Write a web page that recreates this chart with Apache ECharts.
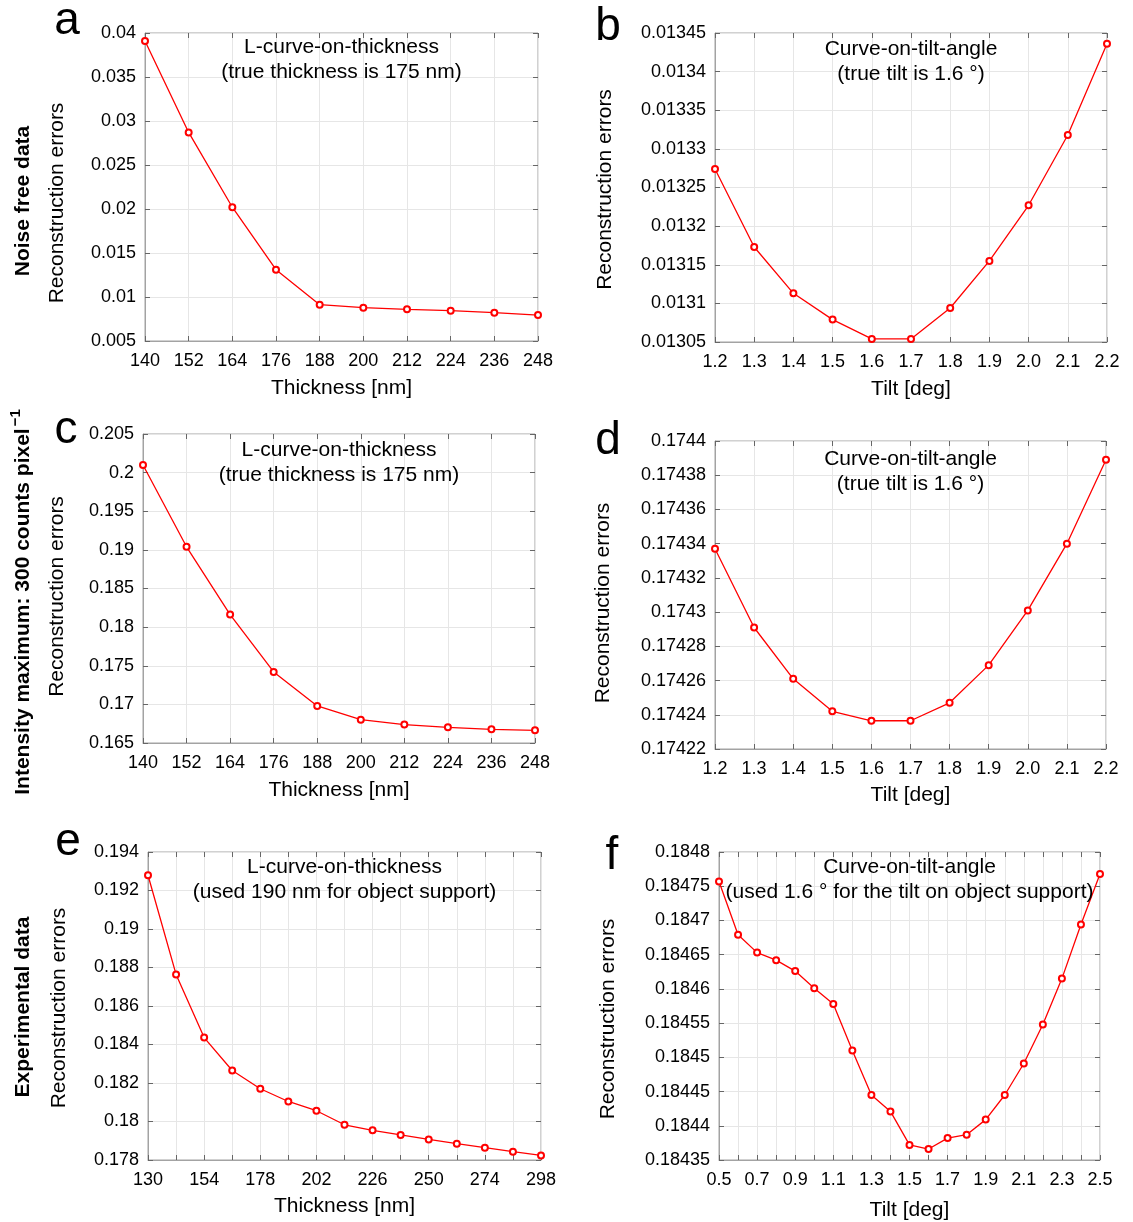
<!DOCTYPE html>
<html><head><meta charset="utf-8">
<script src="https://cdn.jsdelivr.net/npm/echarts@6/dist/echarts.min.js"></script>
<style>html,body{margin:0;padding:0;background:#fff}#c{width:1133px;height:1222px}</style>
</head><body><div id="c"></div><script>
// ---------- data ----------
const thicknessA = ['140','152','164','176','188','200','212','224','236','248'];
const errorsA = [0.0391, 0.0287, 0.0202, 0.0131, 0.00913, 0.00879, 0.0086, 0.00845, 0.00822, 0.00795];
const tiltB = ['1.2','1.3','1.4','1.5','1.6','1.7','1.8','1.9','2.0','2.1','2.2'];
const errorsB = [0.013274, 0.013173, 0.013113, 0.013079, 0.013054, 0.013054, 0.013094, 0.013155, 0.013227, 0.013318, 0.013436];
const thicknessC = ['140','152','164','176','188','200','212','224','236','248'];
const errorsC = [0.20098, 0.1904, 0.18163, 0.1742, 0.1698, 0.16802, 0.16738, 0.16703, 0.16677, 0.16664];
const tiltD = ['1.2','1.3','1.4','1.5','1.6','1.7','1.8','1.9','2.0','2.1','2.2'];
const errorsD = [0.174337, 0.174291, 0.174261, 0.174242, 0.1742365, 0.1742365, 0.174247, 0.174269, 0.174301, 0.17434, 0.174389];
const thicknessE = ['130','142','154','166','178','190','202','214','226','238','250','262','274','286','298'];
const errorsE = [0.19279, 0.18764, 0.18436, 0.18265, 0.1817, 0.18104, 0.18056, 0.17983, 0.17954, 0.1793, 0.17907, 0.17885, 0.17864, 0.17843, 0.17824];
const tiltF = ['0.5','0.6','0.7','0.8','0.9','1.0','1.1','1.2','1.3','1.4','1.5','1.6','1.7','1.8','1.9','2.0','2.1','2.2','2.3','2.4','2.5'];
const errorsF = [0.184757, 0.184679, 0.184653, 0.184642, 0.184626, 0.184601, 0.184578, 0.18451, 0.184445, 0.184421, 0.184372, 0.184366, 0.184382, 0.184387, 0.184409, 0.184445, 0.184491, 0.184548, 0.184615, 0.184694, 0.184768];

// y-axis ranges [min, max, step]
const yRangeA = [0.005, 0.04, 0.005];
const yRangeB = [0.01305, 0.01345, 0.00005];
const yRangeC = [0.165, 0.205, 0.005];
const yRangeD = [0.17422, 0.1744, 0.00002];
const yRangeE = [0.178, 0.194, 0.002];
const yRangeF = [0.18435, 0.1848, 0.00005];

// texts
const titleA = ['L-curve-on-thickness', '(true thickness is 175 nm)'];
const titleB = ['Curve-on-tilt-angle', '(true tilt is 1.6 °)'];
const titleC = ['L-curve-on-thickness', '(true thickness is 175 nm)'];
const titleD = ['Curve-on-tilt-angle', '(true tilt is 1.6 °)'];
const titleE = ['L-curve-on-thickness', '(used 190 nm for object support)'];
const titleF = ['Curve-on-tilt-angle', '(used 1.6 ° for the tilt on object support)'];
const xNameThick = 'Thickness [nm]';
const xNameTilt = 'Tilt [deg]';
const yName = 'Reconstruction errors';
const rowLabels = ['{m|Noise free data}', '{m|Intensity maximum: 300 counts pixel}{s|−1}', '{m|Experimental data}'];
const letters = ['a','b','c','d','e','f'];

// ---------- layout ----------
const FONT = '"Liberation Sans", Arial, sans-serif';
const panels = [
  {x: thicknessA, y: errorsA, r: yRangeA, title: titleA, xName: xNameThick, every: 1,
   g: {left: 145, top: 33, width: 393, height: 308}, yGap: 77, yShift: 16, xGap: 37, titleTop: 34, letter: [67, 21]},
  {x: tiltB, y: errorsB, r: yRangeB, title: titleB, xName: xNameTilt, every: 1,
   g: {left: 715, top: 33, width: 392, height: 309}, yGap: 99, yShift: 2, xGap: 37, titleTop: 36, letter: [608, 27]},
  {x: thicknessC, y: errorsC, r: yRangeC, title: titleC, xName: xNameThick, every: 1,
   g: {left: 143, top: 434, width: 392, height: 309}, yGap: 75, yShift: 8, xGap: 37, titleTop: 437, letter: [66, 430]},
  {x: tiltD, y: errorsD, r: yRangeD, title: titleD, xName: xNameTilt, every: 1,
   g: {left: 715, top: 441, width: 391, height: 308}, yGap: 101, yShift: 8, xGap: 36, titleTop: 446, letter: [608, 441]},
  {x: thicknessE, y: errorsE, r: yRangeE, title: titleE, xName: xNameThick, every: 2,
   g: {left: 148, top: 852, width: 393, height: 308}, yGap: 78, yShift: 2, xGap: 36, titleTop: 854, letter: [68, 842]},
  {x: tiltF, y: errorsF, r: yRangeF, title: titleF, xName: xNameTilt, every: 2,
   g: {left: 719, top: 852, width: 381, height: 309}, yGap: 100, yShift: 13, xGap: 40, titleTop: 854, letter: [612, 856]}
];

const fmt = v => String(parseFloat(v.toFixed(8)));
const grid = [], xAxis = [], yAxis = [], series = [], graphic = [];
const axisColor = '#a3a3a3', gridColor = '#e6e6e6', tickColor = '#666';

panels.forEach((p, i) => {
  grid.push(Object.assign({show: true, borderColor: axisColor, borderWidth: 1, containLabel: false}, p.g));
  xAxis.push({
    type: 'category', gridIndex: i, data: p.x, boundaryGap: false, position: 'bottom',
    name: p.xName, nameLocation: 'middle', nameGap: p.xGap,
    nameTextStyle: {fontSize: 21, color: '#000', fontFamily: FONT},
    axisLine: {lineStyle: {color: axisColor}},
    axisTick: {inside: true, length: 5, interval: 0, lineStyle: {color: tickColor}},
    axisLabel: {interval: p.every - 1, color: '#000', fontSize: 18, margin: 11, fontFamily: FONT, hideOverlap: false},
    splitLine: {show: true, interval: 0, lineStyle: {color: gridColor}}
  });
  yAxis.push({
    type: 'value', gridIndex: i, min: p.r[0], max: p.r[1], interval: p.r[2],
    name: yName, nameLocation: 'middle', nameRotate: 90, nameGap: p.yGap,
    nameTextStyle: {fontSize: 21, color: '#000', fontFamily: FONT, padding: [0, p.yShift * 2, 0, 0]},
    axisLine: {show: true, lineStyle: {color: axisColor}},
    axisTick: {show: true, inside: true, length: 5, lineStyle: {color: tickColor}},
    axisLabel: {color: '#000', fontSize: 18, margin: 9, fontFamily: FONT, formatter: fmt},
    splitLine: {show: true, lineStyle: {color: gridColor}}
  });
  series.push({
    type: 'line', xAxisIndex: i, yAxisIndex: i, data: p.y,
    symbol: 'emptyCircle', symbolSize: 6, showSymbol: true,
    lineStyle: {color: '#ff0000', width: 1.3},
    itemStyle: {color: '#ff0000', borderColor: '#ff0000', borderWidth: 1.2},
    animation: false, silent: true, z: 5
  });
  const cx = p.g.left + p.g.width / 2;
  graphic.push({
    type: 'text', x: cx, y: p.titleTop, z: 10,
    style: {text: p.title.join('\n'), font: '21px ' + FONT, fill: '#000',
            align: 'center', textAlign: 'center', verticalAlign: 'top', textVerticalAlign: 'top', lineHeight: 25.5}
  });
  graphic.push({
    type: 'text', x: p.letter[0], y: p.letter[1], z: 10,
    style: {text: letters[i], font: '46px ' + FONT, fill: '#000',
            align: 'center', textAlign: 'center', verticalAlign: 'middle', textVerticalAlign: 'middle'}
  });
});
// top/right tick axes (box ticks)
panels.forEach((p, i) => {
  xAxis.push({
    type: 'category', gridIndex: i, data: p.x, boundaryGap: false, position: 'top',
    axisLine: {show: false}, axisLabel: {show: false}, splitLine: {show: false},
    axisTick: {inside: true, length: 5, interval: 0, lineStyle: {color: tickColor}}
  });
  yAxis.push({
    type: 'value', gridIndex: i, min: p.r[0], max: p.r[1], interval: p.r[2], position: 'right',
    axisLine: {show: false}, axisLabel: {show: false}, splitLine: {show: false},
    axisTick: {show: true, inside: true, length: 5, lineStyle: {color: tickColor}}
  });
});

const rowPos = [[23, 201], [23, 602], [23, 1007]];
rowLabels.forEach((t, k) => {
  graphic.push({
    type: 'text', x: rowPos[k][0], y: rowPos[k][1], rotation: Math.PI / 2, z: 10,
    style: {text: t, fill: '#000',
            align: 'center', textAlign: 'center', verticalAlign: 'middle', textVerticalAlign: 'middle',
            rich: {
              m: {fontSize: 21, fontWeight: 'bold', fontFamily: FONT, fill: '#000', lineHeight: 24},
              s: {fontSize: 15, fontWeight: 'bold', fontFamily: FONT, fill: '#000', padding: [0, 0, 14, 2], lineHeight: 16}
            }}
  });
});

const chart = echarts.init(document.getElementById('c'), null, {renderer: 'canvas'});
chart.setOption({
  backgroundColor: '#fff',
  animation: false,
  textStyle: {fontFamily: FONT},
  grid, xAxis, yAxis, series, graphic
});
</script></body></html>
